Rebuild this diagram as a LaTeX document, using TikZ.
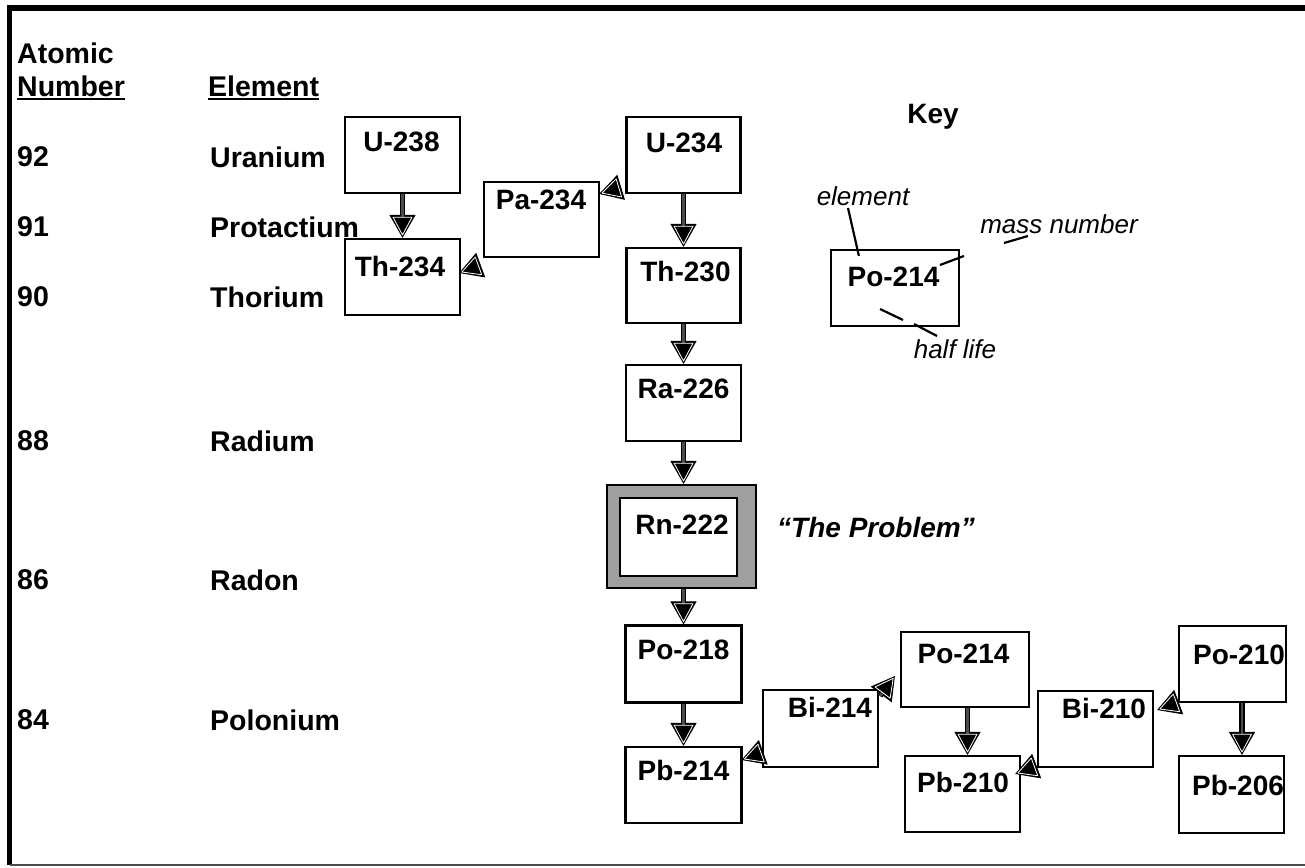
\documentclass[tikz,border=0pt]{standalone}
\usepackage{fontspec}
\setmainfont{Liberation Sans}
\usetikzlibrary{arrows.meta,positioning,calc}

\tikzset{
  nbox/.style={draw, line width=2.2pt, fill=white, minimum width=115pt, minimum height=76pt, inner sep=0pt},
  nuc/.style={font=\fontsize{28}{30}\selectfont\bfseries, inner sep=0pt},
  lbl/.style={font=\fontsize{28.5}{30}\selectfont\bfseries, inner sep=0pt, anchor=west},
  note/.style={font=\fontsize{26}{28}\selectfont\itshape, inner sep=0pt, anchor=base},
  decay/.style={
    preaction={draw, line width=1pt, shorten >=0pt, -{Triangle[length=23pt,width=26pt]}},
    draw, line width=1.4pt, double=gray!60!black, double distance=2.6pt, shorten >=2.5pt,
    -{Triangle[length=19pt,width=20pt,color=white,fill=black,line width=0.8pt,round]}},
  lead/.style={line width=2.2pt}
}

\begin{document}
\begin{tikzpicture}[x=1pt, y=-1pt]
\useasboundingbox (0,0) rectangle (1305,867);

% Frame
\draw[line width=6pt] (7,8) -- (1305,8);
\draw[line width=5pt] (9.5,5) -- (9.5,865);
\draw[line width=1.5pt, gray!60!black] (9.5,865) -- (1305,865);

% Headings
\node[lbl] (hdatom) at (17,53) {Atomic};
\node[lbl, anchor=base west] (hdnum) at (17,96.5) {Number};
\node[lbl, anchor=base west] (hdelem) at (208,96.5) {Element};
\draw[line width=2.5pt] ([yshift=-2.5pt]hdnum.base west) -- ([yshift=-2.5pt]hdnum.base east);
\draw[line width=2.5pt] ([yshift=-2.5pt]hdelem.base west) -- ([yshift=-2.5pt]hdelem.base east);

% Atomic numbers and elements
\node[lbl] (z92) at (17,157) {92};  \node[lbl] (el92) at (210,157) {Uranium};
\node[lbl] (z91) at (17,227) {91};  \node[lbl] (el91) at (210,227) {Protactium};
\node[lbl] (z90) at (17,297) {90};  \node[lbl] (el90) at (210,297) {Thorium};
\node[lbl] (z88) at (17,441) {88};  \node[lbl] (el88) at (210,441) {Radium};
\node[lbl] (z86) at (17,580) {86};  \node[lbl] (el86) at (210,580) {Radon};
\node[lbl] (z84) at (17,720) {84};  \node[lbl] (el84) at (210,720) {Polonium};

% Uranium series
\node[nbox] (u238) at (402.5,155) {};
\node[nuc] (u238t) at (401.5,142) {U-238};
\node[nbox] (th234) at (402.5,277) {};
\node[nuc] (th234t) at (400,267) {Th-234};
\node[nbox, minimum height=75pt] (pa234) at (541.5,219.5) {};
\node[nuc] (pa234t) at (541,200) {Pa-234};
\node[nbox, minimum width=114pt] (u234) at (683.5,155) {};
\node[nuc] (u234t) at (684,143) {U-234};
\node[nbox, minimum width=114pt, minimum height=75pt] (th230) at (683.5,285.5) {};
\node[nuc] (th230t) at (685.5,272) {Th-230};
\node[nbox] (ra226) at (683.5,403) {};
\node[nuc] (ra226t) at (683.5,389) {Ra-226};

% Radon, the problem
\node[draw, line width=2.2pt, fill=gray!75, minimum width=149pt, minimum height=103pt] (rnout) at (681.5,536.5) {};
\node[nbox, minimum width=117pt, minimum height=78pt] (rn222) at (678.5,537) {};
\node[nuc] (rn222t) at (682,525) {Rn-222};
\node[nuc, font=\fontsize{28}{30}\selectfont\bfseries\itshape, anchor=base] (probl) at (876,537) {“The Problem”};

\node[nbox, minimum width=116pt, minimum height=77pt] (po218) at (683.5,664) {};
\node[nuc] (po218t) at (683.5,650) {Po-218};
\node[nbox, minimum width=116pt] (pb214) at (683.5,785) {};
\node[nuc] (pb214t) at (683.5,770) {Pb-214};
\node[nbox, minimum height=77pt] (bi214) at (820.5,728.5) {};
\node[nuc] (bi214t) at (830,707) {Bi-214};
\node[nbox, minimum width=128pt, minimum height=75pt] (po214) at (965,669.5) {};
\node[nuc] (po214t) at (963.5,654) {Po-214};
\node[nbox] (pb210) at (962.5,794) {};
\node[nuc] (pb210t) at (963,782) {Pb-210};
\node[nbox] (bi210) at (1095.5,729) {};
\node[nuc] (bi210t) at (1104,708) {Bi-210};
\node[nbox, minimum width=107pt] (po210) at (1232.5,664) {};
\node[nuc] (po210t) at (1239,655) {Po-210};
\node[nbox, minimum width=105pt, minimum height=77pt] (pb206) at (1231.5,794.5) {};
\node[nuc] (pb206t) at (1238,785) {Pb-206};

% Alpha decays
\draw[decay] (u238) -- (th234);
\draw[decay] (u234) -- (th230);
\draw[decay] (th230) -- (ra226);
\draw[decay] (ra226.south) -- (ra226.south |- rnout.north);
\draw[decay] (rnout.south -| po218.north) -- (po218.north);
\draw[decay] (po218) -- (pb214);
\draw[decay] ([xshift=2.5pt]po214.south) -- ([xshift=5pt]pb210.north);
\draw[decay] ([xshift=9.5pt]po210.south) -- ([xshift=10.5pt]pb206.north);

% Beta decays
\draw[decay] ([shift={(-7,-6)}]u234.south west) -- ([shift={(-1,13)}]pa234.north east);
\draw[decay] ([shift={(-5,8)}]pa234.south west) -- ([shift={(-2,-4)}]th234.east);
\draw[decay] ([shift={(1,7)}]bi214.north east) -- ([shift={(-5,6.5)}]po214.west);
\draw[decay] ([shift={(-1,-15)}]bi214.south west) -- ([shift={(-1,-25)}]pb214.east);
\draw[decay] ([shift={(-3,-1)}]bi210.south west) -- ([shift={(-6,-20)}]pb210.east);
\draw[decay] ([shift={(-2,0)}]po210.south west) -- ([shift={(3,-19)}]bi210.east);

% Key
\node[nuc, anchor=base] (keyhd) at (933,123) {Key};
\node[nbox, minimum width=128pt] (keybox) at (895,288) {};
\node[nuc] (keytxt) at (893.5,277) {Po-214};
\node[note] (keyel) at (863,205) {element};
\node[note] (keymass) at (1059,233) {mass number};
\node[note] (keyhalf) at (955,358) {half life};
\draw[lead] ([shift={(-15,3)}]keyel.base) -- ([shift={(29,7)}]keybox.north west);
\draw[lead] ([shift={(-119,32)}]keymass.base) -- ([shift={(-95,23)}]keymass.base);
\draw[lead] ([shift={(-55,10)}]keymass.base) -- ([shift={(-31,3)}]keymass.base);
\draw[lead] ([shift={(-75,-49)}]keyhalf.base) -- ([shift={(-52,-38)}]keyhalf.base);
\draw[lead] ([shift={(-41,-34)}]keyhalf.base) -- ([shift={(-18,-22)}]keyhalf.base);
\end{tikzpicture}
\end{document}
